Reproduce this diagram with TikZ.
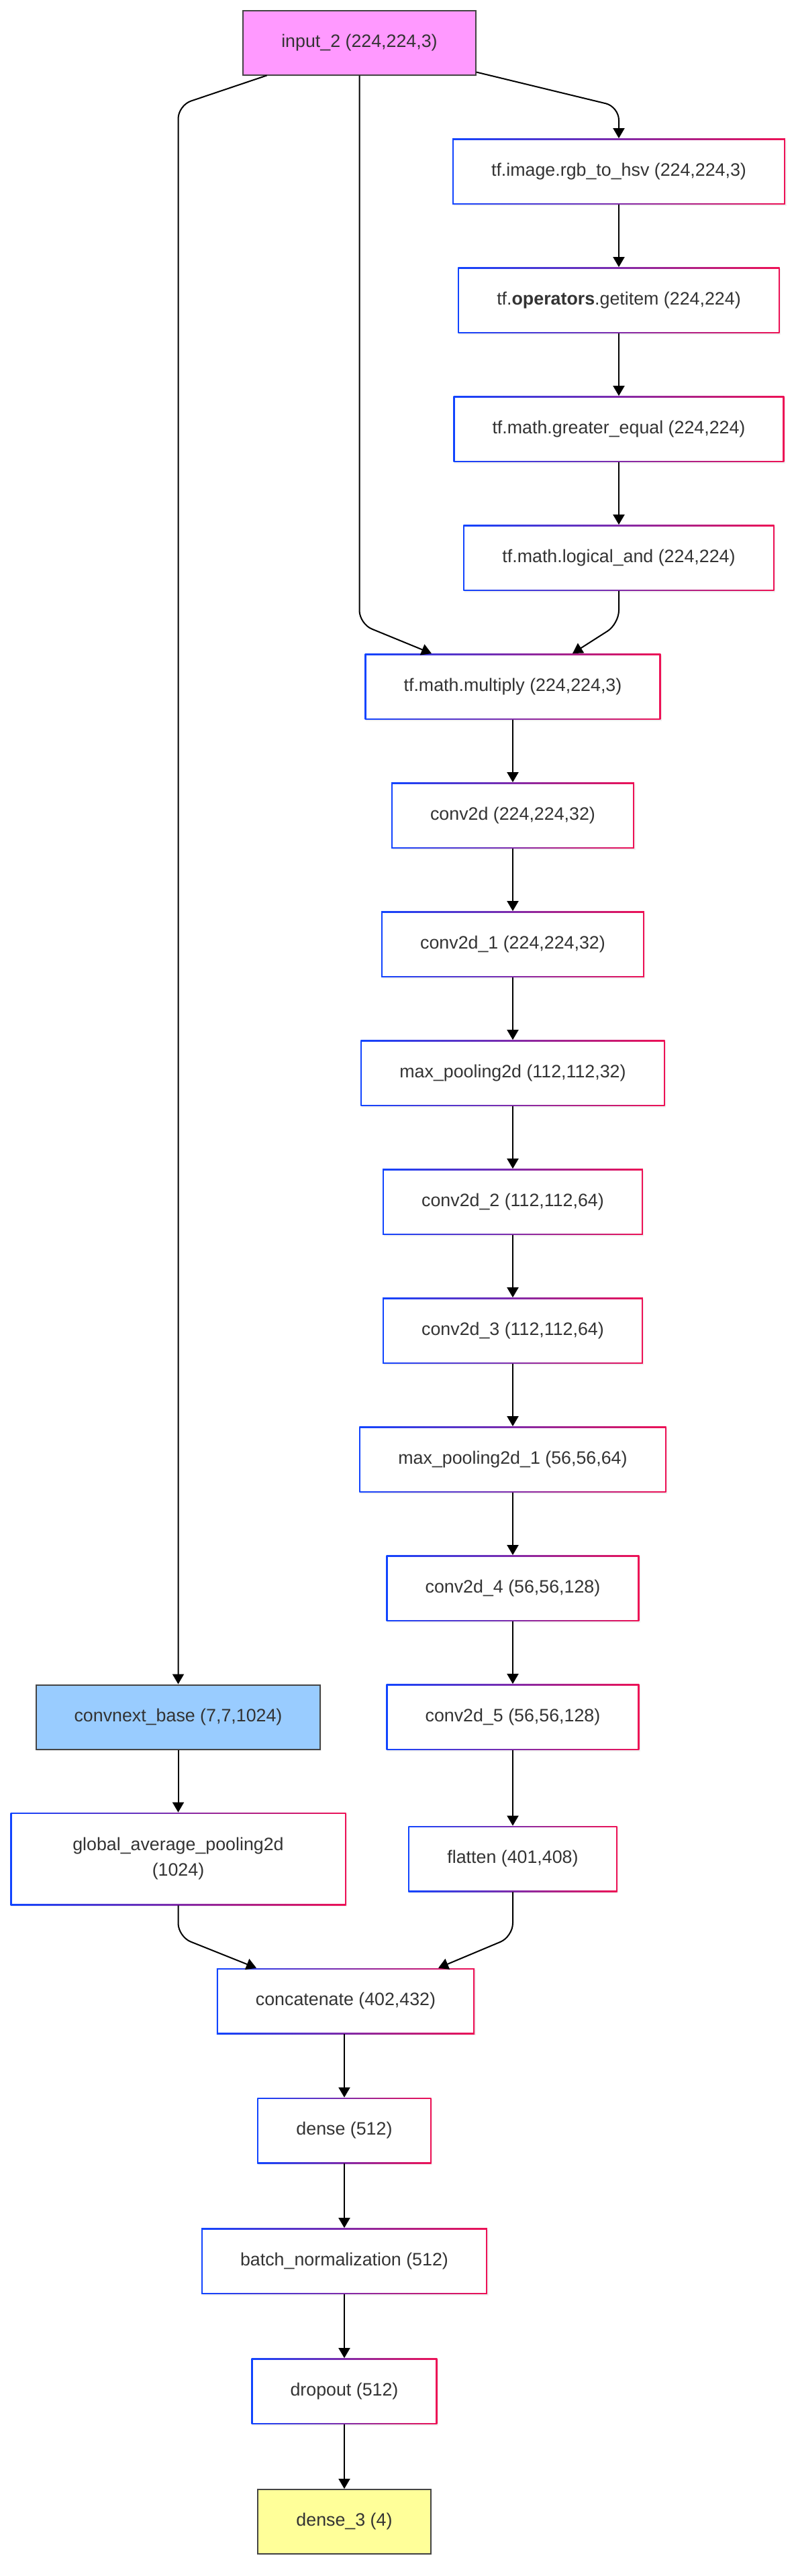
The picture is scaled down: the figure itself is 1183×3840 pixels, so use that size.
\documentclass[tikz,border=0pt]{standalone}
\usepackage{fontspec}
\setmainfont{Liberation Sans}
\usetikzlibrary{arrows.meta,shadows}
\definecolor{gblue}{HTML}{1144FF}
\definecolor{gred}{HTML}{EE1155}
\definecolor{txtgray}{HTML}{333333}
\definecolor{rimgray}{HTML}{444444}
\definecolor{inpink}{HTML}{FF99FF}
\definecolor{basblue}{HTML}{99CCFF}
\definecolor{outyellow}{HTML}{FFFF99}
\tikzset{
  layer/.style={rectangle, fill=white, minimum height=49pt, inner xsep=29pt, inner ysep=0pt,
    text=txtgray, font=\fontsize{13.4}{19}\selectfont,
    drop shadow={opacity=0.12, shadow xshift=0.8pt, shadow yshift=-1pt},
    path picture={
      \shade[left color=gblue, right color=gred] (path picture bounding box.south west) rectangle (path picture bounding box.north east);
      \fill[white] ([shift={(1pt,1pt)}]path picture bounding box.south west) rectangle ([shift={(-1pt,-1pt)}]path picture bounding box.north east);
    }},
  tinted/.style={rectangle, draw=rimgray, line width=1pt, fill=#1, minimum height=48pt, inner xsep=28.5pt, inner ysep=0pt,
    text=txtgray, font=\fontsize{13.4}{19}\selectfont,
    drop shadow={opacity=0.12, shadow xshift=0.8pt, shadow yshift=-1pt}},
  edge/.style={line width=1pt, -{Triangle[length=7.5pt,width=8.5pt]}, rounded corners=10pt}
}
\begin{document}
\begin{tikzpicture}[x=0.5pt,y=-0.5pt]
\useasboundingbox (0,0) rectangle (1183,3840);

% Knoten
\node[tinted=inpink] (input) at (535.5,63.5) {input\_2 (224,224,3)};
\node[layer] (rgbhsv) at (922,255.5) {tf.image.rgb\_to\_hsv (224,224,3)};
\node[layer] (getitem) at (922,447.5) {tf.\textbf{operators}.getitem (224,224)};
\node[layer] (gequal) at (922,639.5) {tf.math.greater\_equal (224,224)};
\node[layer] (logand) at (922,831.5) {tf.math.logical\_and (224,224)};
\node[layer] (multiply) at (764,1023.5) {tf.math.multiply (224,224,3)};
\node[layer] (conv) at (764,1215.5) {conv2d (224,224,32)};
\node[layer] (convone) at (764,1407.5) {conv2d\_1 (224,224,32)};
\node[layer] (poolone) at (764,1599.5) {max\_pooling2d (112,112,32)};
\node[layer] (convtwo) at (764,1791.5) {conv2d\_2 (112,112,64)};
\node[layer] (convthree) at (764,1983.5) {conv2d\_3 (112,112,64)};
\node[layer] (pooltwo) at (764,2175.5) {max\_pooling2d\_1 (56,56,64)};
\node[layer] (convfour) at (764,2367.5) {conv2d\_4 (56,56,128)};
\node[layer] (convfive) at (764,2559.5) {conv2d\_5 (56,56,128)};
\node[tinted=basblue] (convnext) at (265.5,2559.5) {convnext\_base (7,7,1024)};
\node[layer,minimum width=250pt,minimum height=69pt,align=center] (gap) at (265.5,2771) {global\_average\_pooling2d\\(1024)};
\node[layer] (flatten) at (764,2771) {flatten (401,408)};
\node[layer] (concat) at (515,2983) {concatenate (402,432)};
\node[layer] (dense) at (513,3176) {dense (512)};
\node[layer] (batchnorm) at (513,3370.5) {batch\_normalization (512)};
\node[layer] (dropout) at (513,3564.5) {dropout (512)};
\node[tinted=outyellow] (densethree) at (513,3759) {dense\_3 (4)};

% Pfeile
\draw[edge] ([xshift=-69pt]input.south) -- (265.5,157) -- (convnext.north);
\draw[edge] (input.south) -- (535.5,930) -- ([xshift=-60.5pt]multiply.north);
\draw[edge] ([yshift=2.5pt]input.south east) -- (922,159) -- (rgbhsv.north);
\draw[edge] (rgbhsv) -- (getitem);
\draw[edge] (getitem) -- (gequal);
\draw[edge] (gequal) -- (logand);
\draw[edge] (logand.south) -- (922,930) -- ([xshift=44.5pt]multiply.north);
\draw[edge] (multiply) -- (conv);
\draw[edge] (conv) -- (convone);
\draw[edge] (convone) -- (poolone);
\draw[edge] (poolone) -- (convtwo);
\draw[edge] (convtwo) -- (convthree);
\draw[edge] (convthree) -- (pooltwo);
\draw[edge] (pooltwo) -- (convfour);
\draw[edge] (convfour) -- (convfive);
\draw[edge] (convfive) -- (flatten);
\draw[edge] (convnext) -- (gap);
\draw[edge] (gap.south) -- (265.5,2887) -- ([xshift=-66.5pt]concat.north);
\draw[edge] (flatten.south) -- (764,2887) -- ([xshift=69pt]concat.north);
\draw[edge] (concat.south -| dense.north) -- (dense);
\draw[edge] (dense) -- (batchnorm);
\draw[edge] (batchnorm) -- (dropout);
\draw[edge] (dropout) -- (densethree);
\end{tikzpicture}
\end{document}
